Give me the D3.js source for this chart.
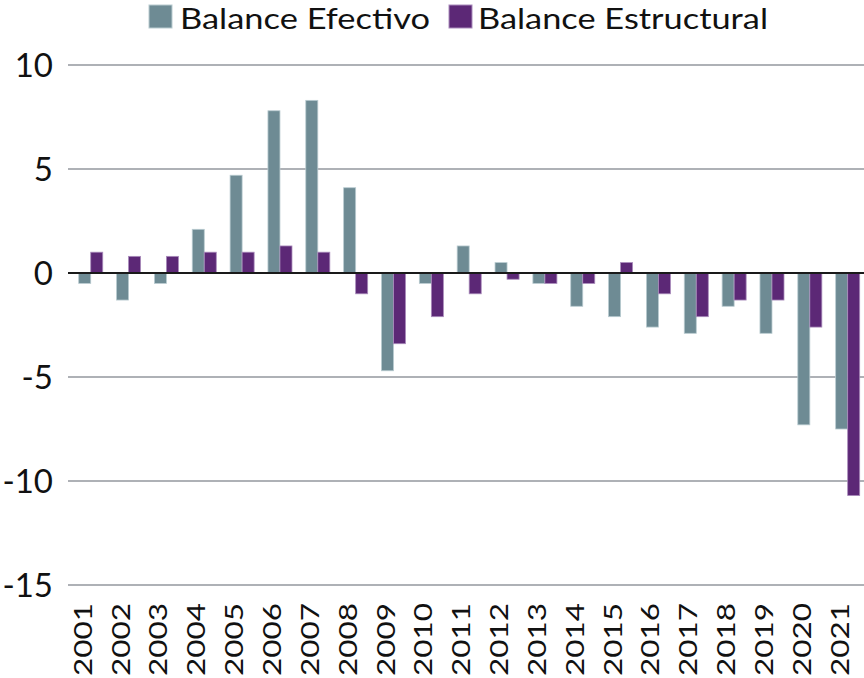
<!DOCTYPE html>
<html>
<head>
<meta charset="utf-8">
<script src="https://cdn.jsdelivr.net/npm/d3@7"></script>
<style>
  html, body { margin: 0; padding: 0; background: #fff; }
  svg { display: block; }
  text { font-family: Lato, "Open Sans", sans-serif; fill: #111; }
</style>
</head>
<body>
<svg id="chart" width="864" height="678"></svg>
<script>
const years = ["2001","2002","2003","2004","2005","2006","2007","2008","2009","2010","2011","2012","2013","2014","2015","2016","2017","2018","2019","2020","2021"];
const seriesNames = ["Balance Efectivo", "Balance Estructural"];
const balanceEfectivo = [-0.5,-1.3,-0.5,2.1,4.7,7.8,8.3,4.1,-4.7,-0.5,1.3,0.5,-0.5,-1.6,-2.1,-2.6,-2.9,-1.6,-2.9,-7.3,-7.5];
const balanceEstructural = [1.0,0.8,0.8,1.0,1.0,1.3,1.0,-1.0,-3.4,-2.1,-1.0,-0.3,-0.5,-0.5,0.5,-1.0,-2.1,-1.3,-1.3,-2.6,-10.7];
const yTicks = [10, 5, 0, -5, -10, -15];
const colors = ["#6e8b94", "#5c2876"];
const strokes = ["#b9cbd0", "#a98bbb"];

const svg = d3.select("#chart");

const x = d3.scaleBand().domain(years).range([71.8, 866.6]).paddingInner(0.365).paddingOuter(0.1825);
const xs = d3.scaleBand().domain(seriesNames).range([0, x.bandwidth()]);
const y = d3.scaleLinear().domain([-15, 10]).range([585, 65]);

// gridlines
svg.append("g").selectAll("line").data(yTicks.filter(d => d !== 0)).join("line")
  .attr("x1", 68).attr("x2", 864)
  .attr("y1", d => y(d)).attr("y2", d => y(d))
  .attr("stroke", "#aeb1b6").attr("stroke-width", 2);

// y tick labels
svg.append("g").selectAll("text").data(yTicks).join("text")
  .attr("x", 53).attr("y", d => y(d) + 12)
  .attr("text-anchor", "end")
  .attr("font-size", 33)
  .text(d => d);

// bars
const data = years.map((yr, i) => ({ yr, vals: [balanceEfectivo[i], balanceEstructural[i]] }));
const groups = svg.append("g").selectAll("g").data(data).join("g")
  .attr("transform", d => `translate(${x(d.yr)},0)`);
groups.selectAll("rect").data(d => d.vals.map((v, k) => ({ v, k }))).join("rect")
  .attr("x", d => xs(seriesNames[d.k]))
  .attr("width", xs.bandwidth())
  .attr("y", d => y(Math.max(0, d.v)))
  .attr("height", d => Math.abs(y(d.v) - y(0)))
  .attr("fill", d => colors[d.k])
  .attr("stroke", d => strokes[d.k])
  .attr("stroke-width", 0.8);

// zero line
svg.append("line")
  .attr("x1", 68).attr("x2", 864)
  .attr("y1", y(0)).attr("y2", y(0))
  .attr("stroke", "#1a1a1a").attr("stroke-width", 2);

// x labels
svg.append("g").selectAll("text").data(years).join("text")
  .attr("transform", d => `translate(${x(d) + x.bandwidth() / 2 + 1},603) rotate(-90)`)
  .attr("text-anchor", "end")
  .attr("font-size", 25)
  .attr("textLength", 73)
  .attr("lengthAdjust", "spacingAndGlyphs")
  .text(d => d);

// legend
const legend = [
  { name: seriesNames[0], sx: 149, tx: 180, tl: 250 },
  { name: seriesNames[1], sx: 449, tx: 478, tl: 290 }
];
legend.forEach((l, i) => {
  svg.append("rect").attr("x", l.sx).attr("y", 5).attr("width", 23).attr("height", 23)
    .attr("fill", colors[i]).attr("stroke", strokes[i]).attr("stroke-width", 1);
  svg.append("text").attr("x", l.tx).attr("y", 28.5)
    .attr("font-size", 28)
    .attr("textLength", l.tl).attr("lengthAdjust", "spacingAndGlyphs")
    .text(l.name);
});
</script>
</body>
</html>
